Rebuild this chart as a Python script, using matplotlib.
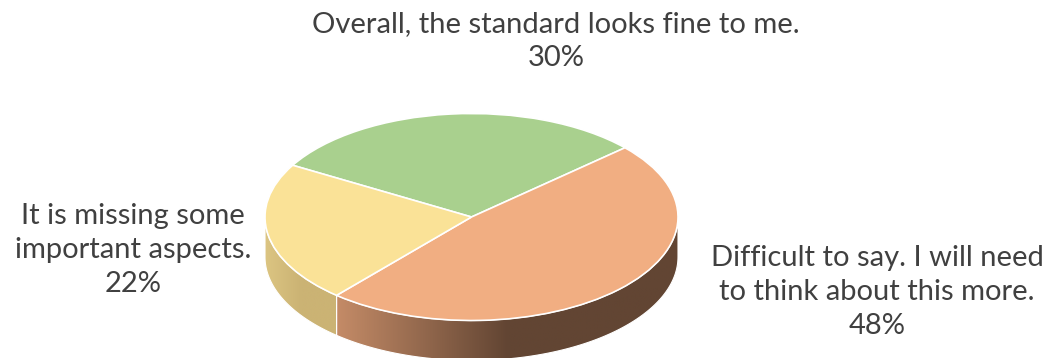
import numpy as np
import matplotlib.pyplot as plt
from matplotlib.patches import Polygon
from matplotlib.colors import LinearSegmentedColormap
from matplotlib.transforms import Affine2D

# data
labels = ['Overall, the standard looks fine to me.',
          'Difficult to say. I will need\nto think about this more.',
          'It is missing some\nimportant aspects.']
values = [30, 48, 22]
top_colors = ['#a9d08e', '#f1ae82', '#fae297']
wall_colors = [('#8fb478', '#6f9460'), ('#c48b67', '#624533'), ('#dcc582', '#cbb374')]

W, H = 1051, 358
fig = plt.figure(figsize=(W / 100, H / 100), dpi=100)
ax = fig.add_axes([0, 0, 1, 1])
ax.set_xlim(0, W)
ax.set_ylim(0, H)
ax.axis('off')

# pie geometry (pixel units, y up)
cx, cy = 471.5, 141.0
rx, ry = 206.5, 103.5
depth = 40.0
start = 150.0

# slice boundaries, clockwise from start angle
angles = [start]
for v in values:
    angles.append(angles[-1] - v / sum(values) * 360.0)

# side walls (only the front half, angles -180..0, is visible)
for i in range(len(values)):
    a_hi, a_lo = angles[i], angles[i + 1]
    for shift in (0, -360, 360):
        hi = min(a_hi + shift, 0.0)
        lo = max(a_lo + shift, -180.0)
        if hi <= lo:
            continue
        t = np.radians(np.linspace(lo, hi, 120))
        xs = cx + rx * np.cos(t)
        ys = cy + ry * np.sin(t)
        pts = np.vstack([np.column_stack([xs, ys]),
                         np.column_stack([xs[::-1], ys[::-1] - depth])])
        poly = Polygon(pts, closed=True, facecolor='none', edgecolor='white', lw=0.8, zorder=2)
        ax.add_patch(poly)
        cmap = LinearSegmentedColormap.from_list('w%d' % i, [wall_colors[i][0], wall_colors[i][1],
                                                             wall_colors[i][1]])
        x0, x1 = xs.min(), xs.max()
        grad = np.linspace(0, 1, 256).reshape(1, -1)
        im = ax.imshow(grad, cmap=cmap, aspect='auto', zorder=1,
                       extent=[x0, x1, ys.min() - depth - 2, ys.max() + 2])
        im.set_clip_path(poly)

# top face: pie squashed vertically
wedges, _ = ax.pie(values, colors=top_colors, startangle=start, counterclock=False,
                   radius=rx, center=(cx, cy),
                   wedgeprops=dict(edgecolor='white', linewidth=1.2))
squash = Affine2D().translate(-cx, -cy).scale(1, ry / rx).translate(cx, cy) + ax.transData
for w in wedges:
    w.set_transform(squash)
    w.set_zorder(3)

ax.set_xlim(0, W)
ax.set_ylim(0, H)
ax.set_aspect('auto')

# labels
font = dict(family='Lato', size=21, color='#404040', ha='center', va='center',
            multialignment='center', linespacing=1.4)
ax.text(556, H - 41, labels[0] + '\n30%', **font)
ax.text(877, H - 292, labels[1] + '\n48%', **font)
ax.text(133, H - 250, labels[2] + '\n22%', **font)

fig.savefig('out.png', dpi=100)
